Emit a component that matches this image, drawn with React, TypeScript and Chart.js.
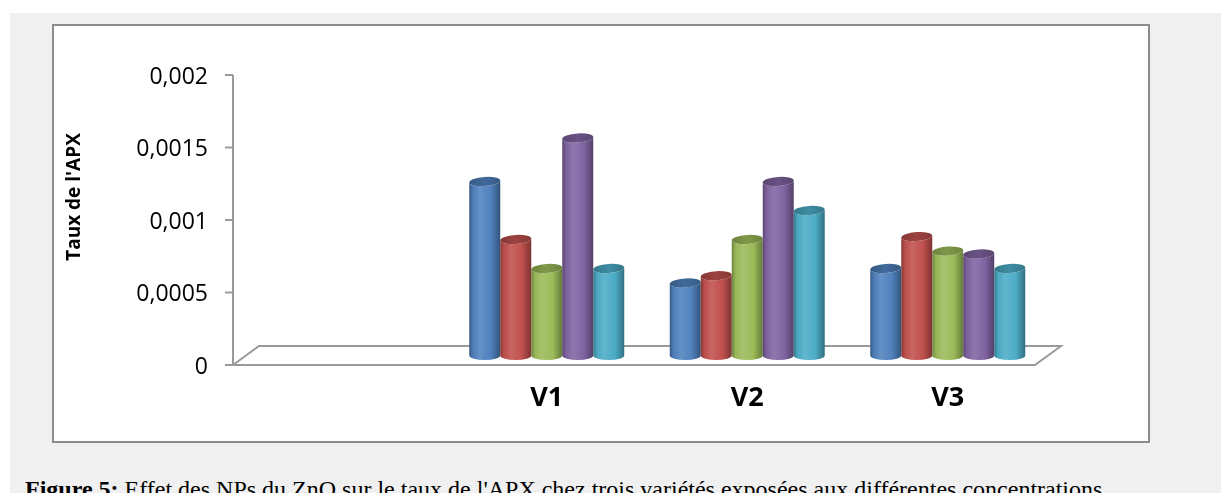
import React, { useEffect, useRef } from "react";
import { Chart, registerables } from "chart.js";

Chart.register(...registerables);

// ---- Data ----
const categories = ["", "V1", "V2", "V3"];
const seriesNames = ["C1", "C2", "C3", "C4", "C5"];
const seriesA = [null, 0.0012, 0.0005, 0.0006];
const seriesB = [null, 0.0008, 0.00055, 0.00082];
const seriesC = [null, 0.0006, 0.0008, 0.00072];
const seriesD = [null, 0.0015, 0.0012, 0.0007];
const seriesE = [null, 0.0006, 0.001, 0.0006];
const yTickValues = [0, 0.0005, 0.001, 0.0015, 0.002];
const yTickLabels = ["0", "0,0005", "0,001", "0,0015", "0,002"];
const yTitle = "Taux de l'APX";
const captionBold = "Figure 5:";
const captionText = " Effet des NPs du ZnO sur le taux de l'APX chez trois variétés exposées aux différentes concentrations.";

const colors = ["#4F81BD", "#C0504D", "#9BBB59", "#8064A2", "#4BACC6"];

function shade(hex: string, amt: number): string {
  const n = parseInt(hex.slice(1), 16);
  const r = (n >> 16) & 255, g = (n >> 8) & 255, b = n & 255;
  const f = (c: number) =>
    Math.round(amt >= 0 ? c + (255 - c) * amt : c * (1 + amt));
  return `rgb(${f(r)},${f(g)},${f(b)})`;
}

const DX = 13;
const DY = 9.5;

function drawCylinder(ctx: CanvasRenderingContext2D, x: number, top: number, base: number, w: number, c: string) {
  const ry = 4.5;
  const rot = -0.07;
  const rx = w / 2;
  const l = x - rx, r = x + rx;
  const g = ctx.createLinearGradient(l, 0, r, 0);
  g.addColorStop(0, shade(c, -0.3));
  g.addColorStop(0.12, shade(c, -0.03));
  g.addColorStop(0.35, shade(c, 0.12));
  g.addColorStop(0.7, c);
  g.addColorStop(1, shade(c, -0.35));
  ctx.save();
  ctx.beginPath();
  ctx.moveTo(l, top);
  ctx.lineTo(l, base);
  ctx.ellipse(x, base, rx, ry, 0, Math.PI, 0, true);
  ctx.lineTo(r, top);
  ctx.ellipse(x, top, rx, ry, rot, 0, Math.PI, false);
  ctx.closePath();
  ctx.fillStyle = g;
  ctx.fill();
  const tg = ctx.createLinearGradient(l, 0, r, 0);
  tg.addColorStop(0, shade(c, -0.3));
  tg.addColorStop(0.5, shade(c, -0.18));
  tg.addColorStop(1, shade(c, -0.3));
  ctx.beginPath();
  ctx.ellipse(x, top, rx, ry, rot, 0, Math.PI * 2);
  ctx.fillStyle = tg;
  ctx.fill();
  ctx.restore();
}

const axesPlugin = {
  id: "axes3d",
  beforeDatasetsDraw(chart: any) {
    const { ctx, chartArea, scales } = chart;
    const ys = scales.y;
    const xs = scales.x;
    const zero = ys.getPixelForValue(0);
    const ax = chartArea.left - DX;
    ctx.save();
    ctx.strokeStyle = "#9a9a9a";
    ctx.lineWidth = 2;
    // floor
    ctx.beginPath();
    ctx.moveTo(ax, zero + DY);
    ctx.lineTo(chartArea.right - DX, zero + DY);
    ctx.lineTo(chartArea.right + DX, zero - DY);
    ctx.lineTo(chartArea.left + DX, zero - DY);
    ctx.closePath();
    ctx.stroke();
    // y axis line
    const topV = yTickValues[yTickValues.length - 1];
    ctx.beginPath();
    ctx.moveTo(ax, ys.getPixelForValue(topV) + DY);
    ctx.lineTo(ax, zero + DY);
    ctx.stroke();
    // ticks + labels
    ctx.fillStyle = "#000";
    ctx.font = '23px "Open Sans"';
    ctx.textAlign = "right";
    ctx.textBaseline = "middle";
    yTickValues.forEach((v, k) => {
      const py = ys.getPixelForValue(v) + DY;
      ctx.beginPath();
      ctx.moveTo(ax - 8, py);
      ctx.lineTo(ax, py);
      ctx.stroke();
      ctx.fillText(yTickLabels[k], ax - 25, py + 2);
    });
    // x labels
    ctx.font = 'bold 27px "Open Sans"';
    ctx.textAlign = "center";
    categories.forEach((c, k) => {
      if (!c) return;
      ctx.fillText(c, xs.getPixelForValue(k), zero + DY + 33);
    });
    // y title
    ctx.save();
    ctx.translate(21, (chartArea.top + chartArea.bottom) / 2 - 13.5);
    ctx.rotate(-Math.PI / 2);
    ctx.font = 'bold 19px "Open Sans"';
    ctx.textAlign = "center";
    ctx.textBaseline = "middle";
    ctx.fillText(yTitle, 0, 0);
    ctx.restore();
    ctx.restore();
  },
};

const cylinderPlugin = {
  id: "cyl",
  afterDatasetsDraw(chart: any) {
    const ctx = chart.ctx;
    const n = chart.data.labels.length;
    for (let j = 0; j < n; j++) {
      for (let i = 0; i < chart.data.datasets.length; i++) {
        const v = chart.data.datasets[i].data[j];
        const el = chart.getDatasetMeta(i).data[j];
        if (v == null || !el) continue;
        const p = el.getProps(["x", "y", "base", "width"], true);
        drawCylinder(ctx, p.x, p.y, p.base, p.width, colors[i]);
      }
    }
  },
};

export default function App() {
  const ref = useRef<HTMLCanvasElement | null>(null);
  useEffect(() => {
    if (!ref.current) return;
    const all = [seriesA, seriesB, seriesC, seriesD, seriesE];
    const chart = new Chart(ref.current, {
      type: "bar",
      data: {
        labels: categories,
        datasets: all.map((d, i) => ({
          label: seriesNames[i],
          data: d as any,
          backgroundColor: "rgba(0,0,0,0)",
          borderWidth: 0,
          categoryPercentage: 0.773,
          barPercentage: 1,
        })),
      },
      options: {
        animation: false,
        responsive: true,
        maintainAspectRatio: false,
        events: [],
        layout: { padding: { left: 192, right: 100, top: 39.5, bottom: 85.5 } },
        plugins: { legend: { display: false }, tooltip: { enabled: false }, title: { display: false } },
        scales: {
          x: { display: false, offset: true },
          y: { display: false, min: 0, max: 0.002 },
        },
      },
      plugins: [axesPlugin, cylinderPlugin],
    });
    return () => chart.destroy();
  }, []);

  return (
    <div style={{ position: "absolute", left: 0, top: 0, width: 1221, height: 493, overflow: "hidden", background: "#fff" }}>
      <div style={{ position: "absolute", left: 10, top: 13, width: 1211, height: 480, background: "#f0f0f0" }} />
      <div
        style={{
          position: "absolute",
          left: 52,
          top: 24,
          width: 1094,
          height: 415,
          background: "#fff",
          border: "2px solid #8c8c8c",
        }}
      >
        <div style={{ position: "relative", width: 1094, height: 415 }}>
          <canvas ref={ref} />
        </div>
      </div>
      <div
        style={{
          position: "absolute",
          left: 25,
          top: 477,
          whiteSpace: "nowrap",
          fontFamily: '"Liberation Serif", serif',
          fontSize: 24,
          lineHeight: 1,
          color: "#000",
        }}
      >
        <b>{captionBold}</b>
        {captionText}
      </div>
    </div>
  );
}
